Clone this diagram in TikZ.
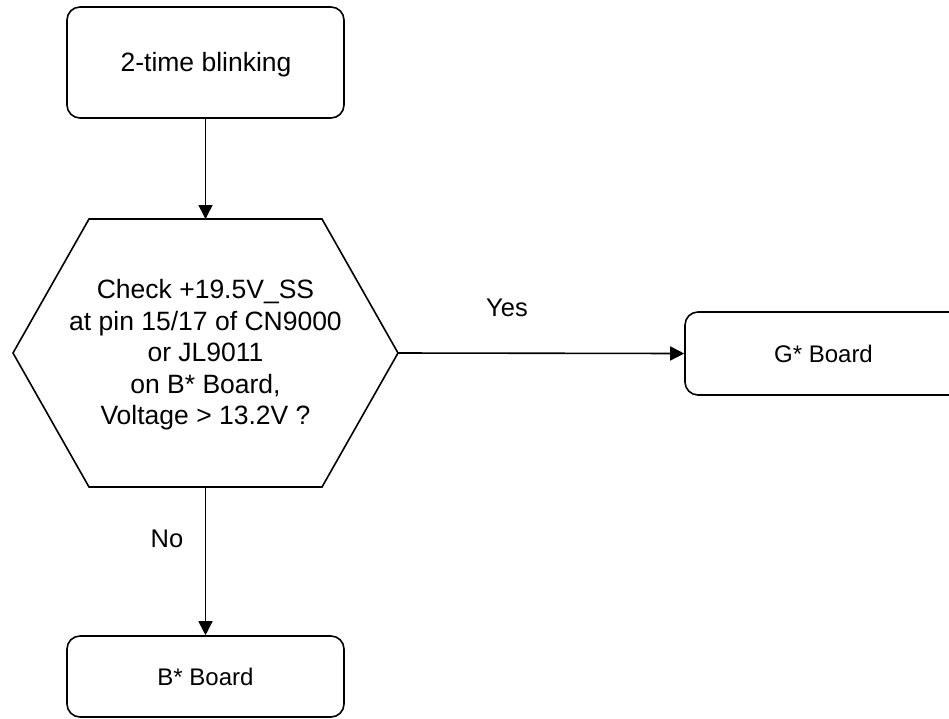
\documentclass[tikz,border=0pt]{standalone}
\usepackage{fontspec}
\setmainfont{Liberation Sans}
\usetikzlibrary{arrows.meta}
\begin{document}
\begin{tikzpicture}[x=1pt,y=-1pt,
  every node/.style={font=\fontsize{26.5}{31.5}\selectfont},
  roundbox/.style={draw=black,line width=1.6pt,rounded corners=13pt,inner sep=0pt,align=center},
  smalltext/.style={font=\fontsize{24}{28}\selectfont},
  lbltext/.style={font=\fontsize{25.5}{30}\selectfont},
  conn/.style={draw=black,line width=1.6pt,-{Triangle[length=14pt,width=14pt]}},
  lbl/.style={inner sep=0pt}]
\useasboundingbox (0,0) rectangle (949,718);
\clip (0,0) rectangle (949,718);
\fill[white] (0,0) rectangle (949,718);
% top box
\node[roundbox,minimum width=277pt,minimum height=111pt] (start) at (205.5,62.5) {};
\node[inner sep=0pt] (starttext) at (206,65) {2-time blinking};
% hexagon decision
\coordinate (hexT) at (205.5,219);
\coordinate (hexR) at (398,353);
\coordinate (hexB) at (205.5,487);
\draw[line width=1.6pt,line join=miter] (13,353) -- (89,219) -- (322,219) -- (398,353) -- (322,487) -- (89,487) -- cycle;
\node[align=center,inner sep=0pt] (dec) at (205.5,355) {Check +19.5V\_SS\\at pin 15/17 of CN9000\\or JL9011\\on B* Board,\\Voltage > 13.2V ?};
% G* board
\node[roundbox,smalltext,minimum width=277pt,minimum height=83pt] (gboard) at (823.5,353.5) {G* Board};
% B* board
\node[roundbox,smalltext,minimum width=277pt,minimum height=81pt] (bboard) at (205.5,676.5) {B* Board};
% connectors
\draw[conn] (start.south) -- (hexT);
\draw[conn] (hexR) -- (gboard.west);
\draw[conn] (hexB) -- (bboard.north);
% labels
\node[lbl,lbltext] (yes) at (507,308) {Yes};
\node[lbl,lbltext] (no) at (167,539) {No};
\end{tikzpicture}
\end{document}
